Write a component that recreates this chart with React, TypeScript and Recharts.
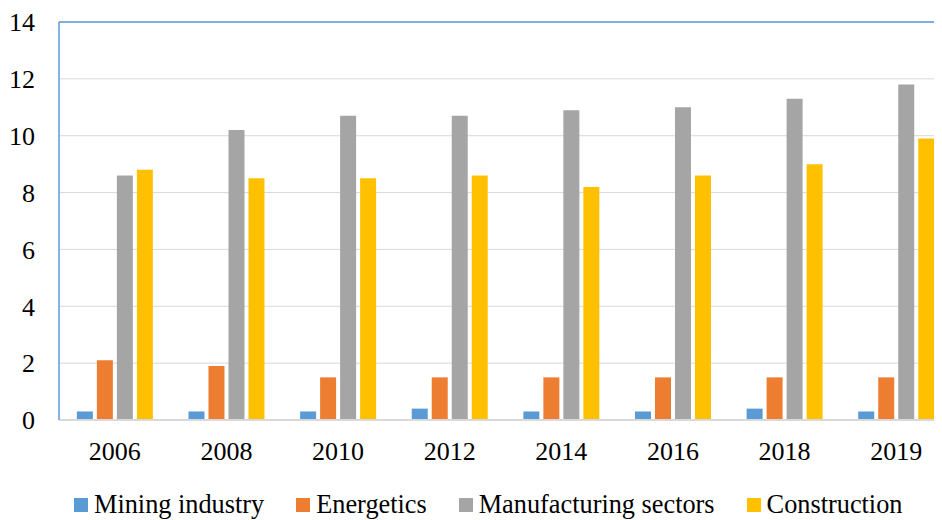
import { Bar, BarChart, CartesianGrid, ReferenceLine, XAxis, YAxis } from 'recharts';

const years = ['2006', '2008', '2010', '2012', '2014', '2016', '2018', '2019'];
const mining = [0.3, 0.3, 0.3, 0.4, 0.3, 0.3, 0.4, 0.3];
const energetics = [2.1, 1.9, 1.5, 1.5, 1.5, 1.5, 1.5, 1.5];
const manufacturing = [8.6, 10.2, 10.7, 10.7, 10.9, 11.0, 11.3, 11.8];
const construction = [8.8, 8.5, 8.5, 8.6, 8.2, 8.6, 9.0, 9.9];
const yTicks = [0, 2, 4, 6, 8, 10, 12, 14];

const series = [
  { key: 'mining', label: 'Mining industry', color: '#5B9BD5' },
  { key: 'energetics', label: 'Energetics', color: '#ED7D31' },
  { key: 'manufacturing', label: 'Manufacturing sectors', color: '#A5A5A5' },
  { key: 'construction', label: 'Construction', color: '#FFC000' },
];

const data = years.map((year, i) => ({
  year,
  mining: mining[i],
  energetics: energetics[i],
  manufacturing: manufacturing[i],
  construction: construction[i],
}));

const FONT = '"Liberation Serif", "Times New Roman", serif';

export default function App() {
  return (
    <div style={{ margin: '-8px 0 0 -8px', width: 942, height: 520, overflow: 'hidden', background: '#fff', position: 'relative' }}>
      <BarChart
        width={960}
        height={520}
        data={data}
        margin={{ top: 22, right: 8, bottom: 70, left: 0 }}
        barGap={4}
        barCategoryGap="16%"
      >
        <CartesianGrid vertical={false} stroke="#D9D9D9" strokeWidth={1} />
        <XAxis
          dataKey="year"
          tickLine={false}
          axisLine={{ stroke: '#D9D9D9', strokeWidth: 2 }}
          tickMargin={16}
          tick={{ fontFamily: FONT, fontSize: 26, fill: '#000' }}
        />
        <YAxis
          width={59}
          domain={[0, 14]}
          ticks={yTicks}
          tickLine={false}
          axisLine={{ stroke: '#5B9BD5', strokeWidth: 1.5 }}
          tickMargin={18}
          tick={{ fontFamily: FONT, fontSize: 26, fill: '#000' }}
        />
        <ReferenceLine y={14} stroke="#5B9BD5" strokeWidth={1.5} />
        {series.map((s) => (
          <Bar key={s.key} dataKey={s.key} name={s.label} fill={s.color} isAnimationActive={false} />
        ))}
      </BarChart>

      {/* legend row under the axis */}
      <div
        style={{
          position: 'absolute',
          left: 74,
          top: 491,
          display: 'flex',
          alignItems: 'center',
          fontFamily: FONT,
          fontSize: 26.3,
          color: '#000',
          whiteSpace: 'nowrap',
        }}
      >
        {series.map((s, i) => (
          <div key={s.key} style={{ display: 'flex', alignItems: 'center', marginLeft: i === 0 ? 0 : 32 }}>
            <span style={{ display: 'inline-block', width: 14, height: 14, background: s.color, marginRight: 6 }} />
            <span style={{ lineHeight: '27px' }}>{s.label}</span>
          </div>
        ))}
      </div>
    </div>
  );
}
